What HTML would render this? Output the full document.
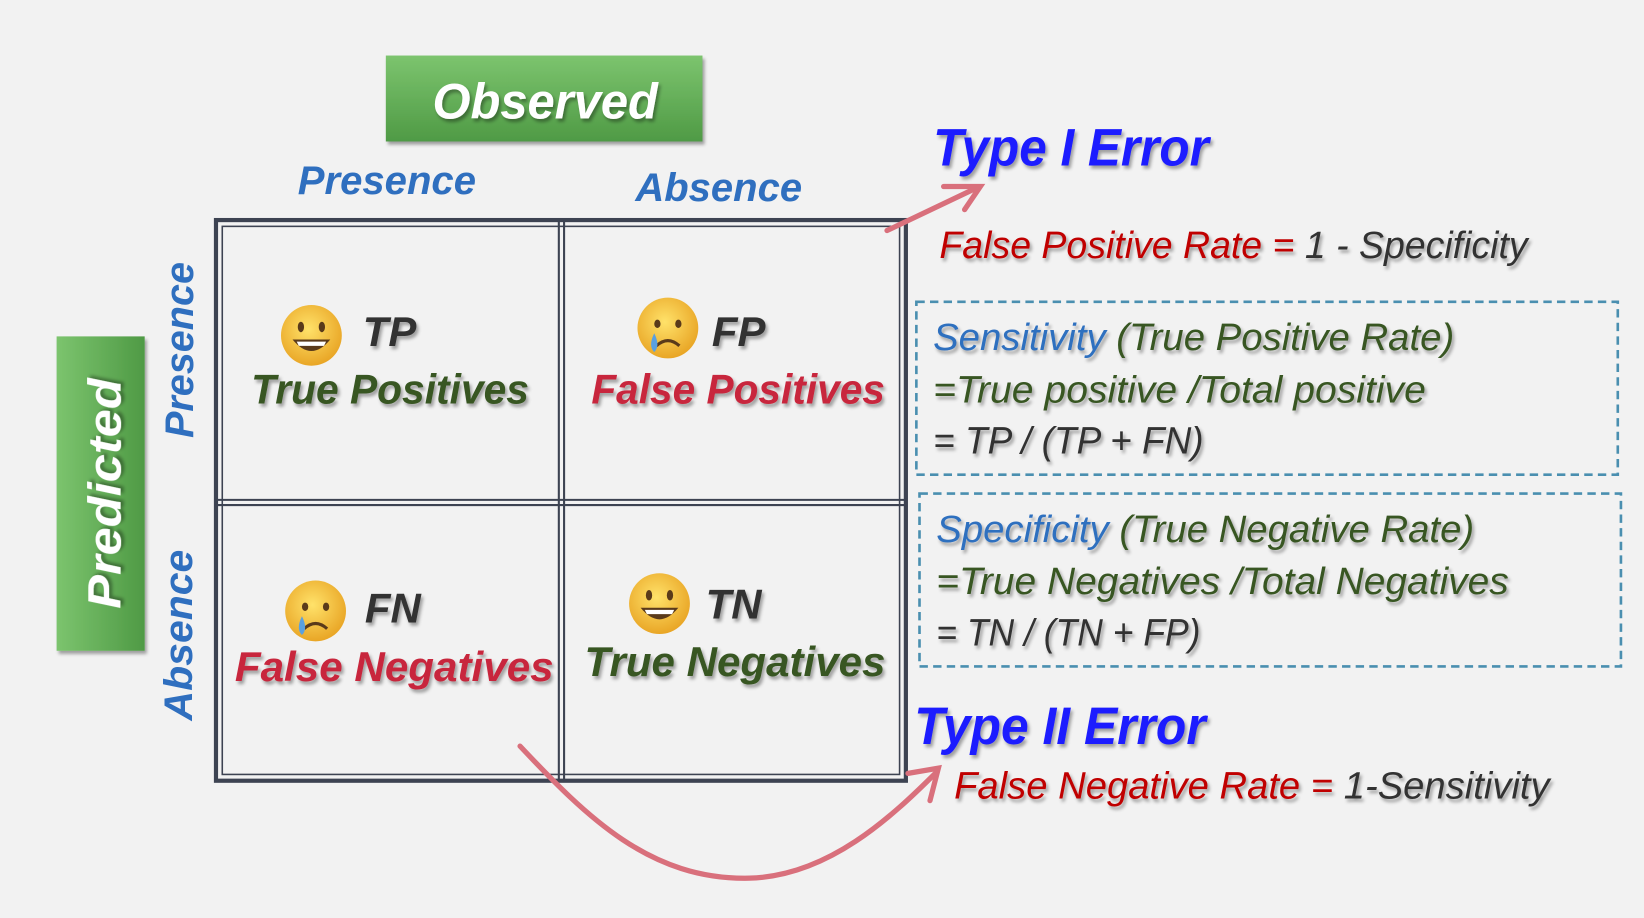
<!DOCTYPE html>
<html><head><meta charset="utf-8"><style>
html,body{margin:0;padding:0;background:#f2f2f2;}
svg{display:block;}
text{font-family:"Liberation Sans",sans-serif;font-style:italic;}
</style></head><body>
<svg width="1644" height="918" viewBox="0 0 1568 876" preserveAspectRatio="none" xmlns="http://www.w3.org/2000/svg">
<defs>
<linearGradient id="g1" x1="0" y1="0" x2="0" y2="1"><stop offset="0" stop-color="#7cc46e"/><stop offset="1" stop-color="#4f9a45"/></linearGradient>
<linearGradient id="g2" x1="0" y1="0" x2="1" y2="0"><stop offset="0" stop-color="#7cc46e"/><stop offset="1" stop-color="#4f9a45"/></linearGradient>
<filter id="sh" x="-10%" y="-20%" width="130%" height="150%"><feDropShadow dx="2" dy="3" stdDeviation="1.5" flood-color="#000" flood-opacity="0.35"/></filter>
<radialGradient id="em" cx="0.45" cy="0.4" r="0.6"><stop offset="0" stop-color="#ffe26a"/><stop offset="1" stop-color="#e9a626"/></radialGradient>
<marker id="ah" markerWidth="10" markerHeight="10" refX="6" refY="5" orient="auto" markerUnits="userSpaceOnUse"><path d="M0,0 L0,0" /></marker>
</defs>
<rect width="1568" height="876" fill="#f2f2f2"/>
<!-- Observed -->
<rect x="368" y="53" width="302" height="82" fill="url(#g1)" filter="url(#sh)"/>
<text x="520" y="113" font-size="48" font-weight="bold" fill="#fff" text-anchor="middle" textLength="215" lengthAdjust="spacingAndGlyphs" filter="url(#sh)">Observed</text>
<!-- Predicted -->
<rect x="54" y="321" width="84" height="300" fill="url(#g2)" filter="url(#sh)"/>
<text transform="translate(115,471) rotate(-90)" font-size="44" font-weight="bold" fill="#fff" text-anchor="middle" textLength="220" lengthAdjust="spacingAndGlyphs" filter="url(#sh)">Predicted</text>
<!-- column labels -->
<text x="284" y="185" font-size="38" font-weight="bold" fill="#2f6fbf" textLength="170" lengthAdjust="spacingAndGlyphs">Presence</text>
<text x="606" y="192" font-size="38" font-weight="bold" fill="#2f6fbf" textLength="159" lengthAdjust="spacingAndGlyphs">Absence</text>
<text transform="translate(184,334) rotate(-90)" font-size="38" font-weight="bold" fill="#2f6fbf" text-anchor="middle" textLength="168" lengthAdjust="spacingAndGlyphs">Presence</text>
<text transform="translate(183,606) rotate(-90)" font-size="38" font-weight="bold" fill="#2f6fbf" text-anchor="middle" textLength="163" lengthAdjust="spacingAndGlyphs">Absence</text>
<!-- grid -->
<g fill="none" stroke="#3d4352">
<rect x="206" y="210" width="658" height="535" stroke-width="4"/>
<rect x="212" y="216" width="646" height="523" stroke-width="1.5"/>
<line x1="533" y1="210" x2="533" y2="745" stroke-width="2"/>
<line x1="538" y1="210" x2="538" y2="745" stroke-width="2"/>
<line x1="206" y1="477" x2="864" y2="477" stroke-width="2"/>
<line x1="206" y1="482" x2="864" y2="482" stroke-width="2"/>
</g>
<!-- emojis -->
<g>
<circle cx="297" cy="320" r="29" fill="url(#em)"/><ellipse cx="287" cy="312" rx="3" ry="5" fill="#5a3a1a"/><ellipse cx="307" cy="312" rx="3" ry="5" fill="#5a3a1a"/><path d="M279,324 Q297,346 315,324 Z" fill="#5a3a1a"/><path d="M283,326 L311,326 L309,330 L285,330Z" fill="#fff"/>
<circle cx="629" cy="576" r="29" fill="url(#em)"/><ellipse cx="619" cy="568" rx="3" ry="5" fill="#5a3a1a"/><ellipse cx="639" cy="568" rx="3" ry="5" fill="#5a3a1a"/><path d="M611,580 Q629,602 647,580 Z" fill="#5a3a1a"/><path d="M615,582 L643,582 L641,586 L617,586Z" fill="#fff"/>
<circle cx="637" cy="313" r="29" fill="url(#em)"/><ellipse cx="627" cy="309" rx="3" ry="4" fill="#5a3a1a"/><ellipse cx="647" cy="309" rx="3" ry="4" fill="#5a3a1a"/><path d="M626,330 Q637,320 648,330" stroke="#5a3a1a" stroke-width="3" fill="none"/><path d="M624,318 Q618,330 624,336 Q630,330 624,318Z" fill="#5aa0e0"/>
<circle cx="301" cy="583" r="29" fill="url(#em)"/><ellipse cx="291" cy="579" rx="3" ry="4" fill="#5a3a1a"/><ellipse cx="311" cy="579" rx="3" ry="4" fill="#5a3a1a"/><path d="M290,600 Q301,590 312,600" stroke="#5a3a1a" stroke-width="3" fill="none"/><path d="M288,588 Q282,600 288,606 Q294,600 288,588Z" fill="#5aa0e0"/>
</g>
<!-- cell texts -->
<g font-weight="bold" filter="url(#sh)">
<text x="346" y="330" font-size="40" fill="#333">TP</text>
<text x="372" y="385" font-size="40" fill="#375623" text-anchor="middle" textLength="265" lengthAdjust="spacingAndGlyphs">True Positives</text>
<text x="679" y="330" font-size="40" fill="#333">FP</text>
<text x="704" y="385" font-size="40" fill="#c8283c" text-anchor="middle" textLength="280" lengthAdjust="spacingAndGlyphs">False Positives</text>
<text x="348" y="594" font-size="40" fill="#333">FN</text>
<text x="376" y="650" font-size="40" fill="#c8283c" text-anchor="middle" textLength="304" lengthAdjust="spacingAndGlyphs">False Negatives</text>
<text x="673" y="590" font-size="40" fill="#333">TN</text>
<text x="701" y="645" font-size="40" fill="#375623" text-anchor="middle" textLength="287" lengthAdjust="spacingAndGlyphs">True Negatives</text>
</g>
<!-- right side -->
<g filter="url(#sh)">
<text x="890" y="158" font-size="50" font-weight="bold" fill="#1a1aff" textLength="263" lengthAdjust="spacingAndGlyphs">Type I Error</text>
<text x="896" y="246" font-size="36" fill="#c00000" textLength="561" lengthAdjust="spacingAndGlyphs">False Positive Rate = <tspan fill="#333">1 - Specificity</tspan></text>
<text x="872" y="710" font-size="50" font-weight="bold" fill="#1a1aff" textLength="278" lengthAdjust="spacingAndGlyphs">Type II Error</text>
<text x="910" y="762" font-size="36" fill="#c00000" textLength="568" lengthAdjust="spacingAndGlyphs">False Negative Rate = <tspan fill="#333">1-Sensitivity</tspan></text>
</g>
<rect x="874" y="288" width="669" height="165" fill="none" stroke="#4a8fb0" stroke-width="2.5" stroke-dasharray="8,5"/>
<rect x="877" y="471" width="669" height="165" fill="none" stroke="#4a8fb0" stroke-width="2.5" stroke-dasharray="8,5"/>
<g font-size="36" filter="url(#sh)">
<text x="890" y="334" fill="#2f6fbf" textLength="497" lengthAdjust="spacingAndGlyphs">Sensitivity <tspan fill="#375623">(True Positive Rate)</tspan></text>
<text x="890" y="384" fill="#375623" textLength="470" lengthAdjust="spacingAndGlyphs">=True positive /Total positive</text>
<text x="890" y="433" fill="#333" textLength="258" lengthAdjust="spacingAndGlyphs">= TP /  (TP + FN)</text>
<text x="893" y="517" fill="#2f6fbf" textLength="513" lengthAdjust="spacingAndGlyphs">Specificity <tspan fill="#375623">(True Negative Rate)</tspan></text>
<text x="893" y="567" fill="#375623" textLength="546" lengthAdjust="spacingAndGlyphs">=True Negatives /Total Negatives</text>
<text x="893" y="616" fill="#333" textLength="252" lengthAdjust="spacingAndGlyphs">= TN / (TN + FP)</text>
</g>
<!-- arrows -->
<g stroke="#d9707c" stroke-width="5" fill="none" stroke-linecap="round">
<path d="M846,220 L930,180"/>
<path d="M900,178 L935,178 L920,200"/>
<path d="M496,712 C560,780 620,840 715,838 C790,836 850,780 893,737"/>
<path d="M866,738 L895,733 L887,764"/>
</g>
</svg>
</body></html>
